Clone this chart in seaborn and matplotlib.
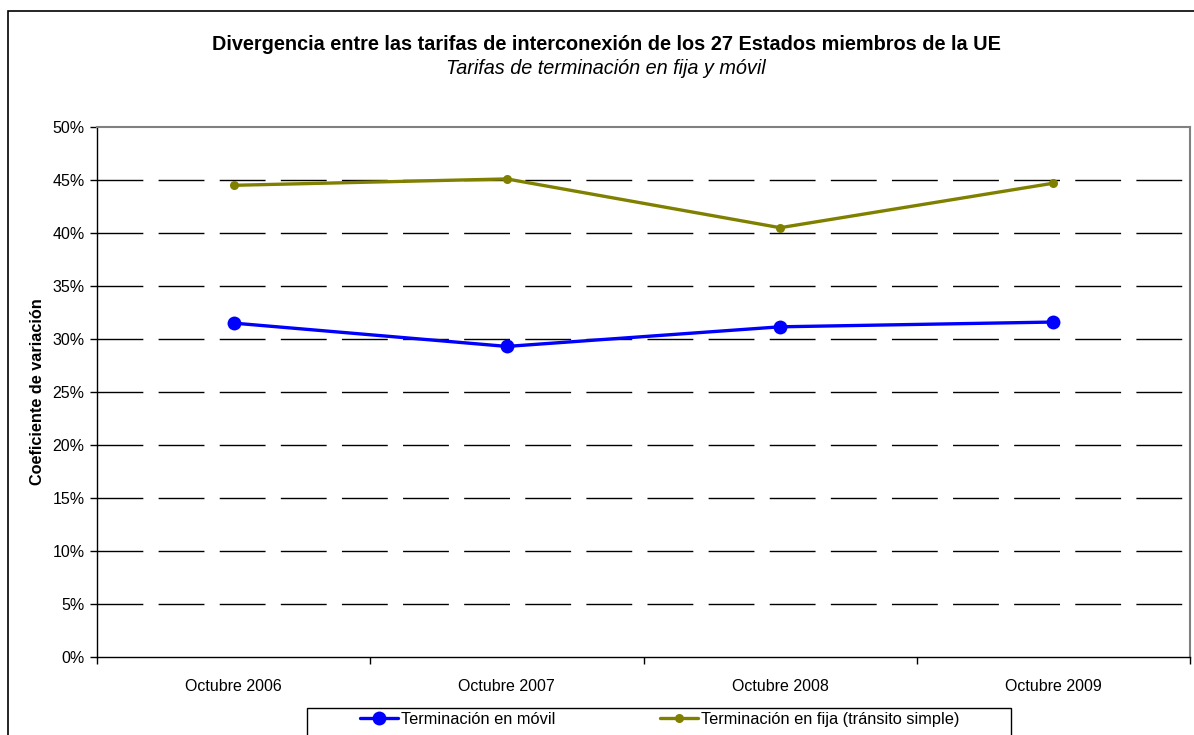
import matplotlib
matplotlib.use("Agg")
import matplotlib.pyplot as plt
import seaborn as sns
import pandas as pd
from matplotlib.patches import Rectangle
from matplotlib.ticker import FixedLocator, PercentFormatter

periods = ["Octubre 2006", "Octubre 2007", "Octubre 2008", "Octubre 2009"]
movil = [31.5, 29.3, 31.15, 31.6]
fija = [44.5, 45.1, 40.5, 44.7]
series_names = ["Terminación en móvil", "Terminación en fija (tránsito simple)"]

sns.set_theme(style="white")
plt.rcParams['font.family'] = ['Liberation Sans', 'DejaVu Sans']
plt.rcParams['text.color'] = 'black'
plt.rcParams['axes.labelcolor'] = 'black'
plt.rcParams['xtick.color'] = 'black'
plt.rcParams['ytick.color'] = 'black'

df = pd.DataFrame({
    "periodo": periods * 2,
    "valor": movil + fija,
    "serie": [series_names[0]] * 4 + [series_names[1]] * 4,
})

W, H = 1194, 735
fig = plt.figure(figsize=(W/100, H/100), dpi=100)
ax = fig.add_axes([97/W, 78/H, (1190-97)/W, (657-127)/H])

palette = {series_names[0]: "#0000FF", series_names[1]: "#808000"}
sizes = {series_names[0]: 10, series_names[1]: 6.5}
for name in series_names:
    sub = df[df["serie"] == name]
    sns.lineplot(data=sub, x="periodo", y="valor", ax=ax, color=palette[name],
                 marker="o", markersize=sizes[name], markeredgewidth=0,
                 linewidth=2.4, label=name, sort=False, zorder=3)

ax.set_xlim(-0.5, 3.5)
ax.set_ylim(0, 50)
ax.set_yticks(range(0, 51, 5))
ax.yaxis.set_major_formatter(PercentFormatter(decimals=0))
for y in range(5, 50, 5):
    ax.axhline(y, color="black", linewidth=1.0, dashes=(33, 11), zorder=1)

ax.set_xticks(range(4))
ax.set_xticklabels(periods)
ax.xaxis.set_minor_locator(FixedLocator([-0.5, 0.5, 1.5, 2.5, 3.5]))
ax.tick_params(axis="x", which="major", length=0, pad=16, labelsize=11.5, labelcolor="black")
ax.tick_params(axis="x", which="minor", length=5, width=1, color="black", direction="out", bottom=True)
ax.tick_params(axis="y", which="major", length=5, width=1, color="black", direction="out",
               left=True, labelsize=11.5, pad=4, labelcolor="black")
ax.set_xlabel("")
ax.set_ylabel("Coeficiente de variación", fontsize=11.7, fontweight="bold", labelpad=5, color="black")

for s in ["left", "bottom"]:
    ax.spines[s].set_color("black")
    ax.spines[s].set_linewidth(1.0)
for s in ["top", "right"]:
    ax.spines[s].set_color("#808080")
    ax.spines[s].set_linewidth(1.5)
    ax.spines[s].set_visible(True)

ax.get_legend().remove()
handles, labels = ax.get_legend_handles_labels()
leg = fig.legend(handles, labels, ncol=2, loc="upper left",
                 bbox_to_anchor=(360/W, 1 - 712/H),
                 frameon=False, fontsize=11.8, handlelength=2.3, handletextpad=0.18,
                 columnspacing=6.4, borderpad=0, borderaxespad=0)
for t in leg.get_texts():
    t.set_color("black")

legend_box = Rectangle((307/W, -0.1), (1011-307)/W, 0.1 + (H-708)/H, transform=fig.transFigure,
                       fill=False, edgecolor="black", linewidth=1.0)
fig.patches.append(legend_box)

fig.text(606/W, 1 - 44/H, "Divergencia entre las tarifas de interconexión de los 27 Estados miembros de la UE",
         ha="center", va="center", fontsize=14.3, fontweight="bold", color="black")
fig.text(606/W, 1 - 68/H, "Tarifas de terminación en fija y móvil",
         ha="center", va="center", fontsize=14.3, fontstyle="italic", color="black")

border = Rectangle((8/W, -0.1), 1.2, 1.1 - 11/H, transform=fig.transFigure,
                   fill=False, edgecolor="black", linewidth=1.2)
fig.patches.append(border)

fig.savefig("out.png", dpi=100)
